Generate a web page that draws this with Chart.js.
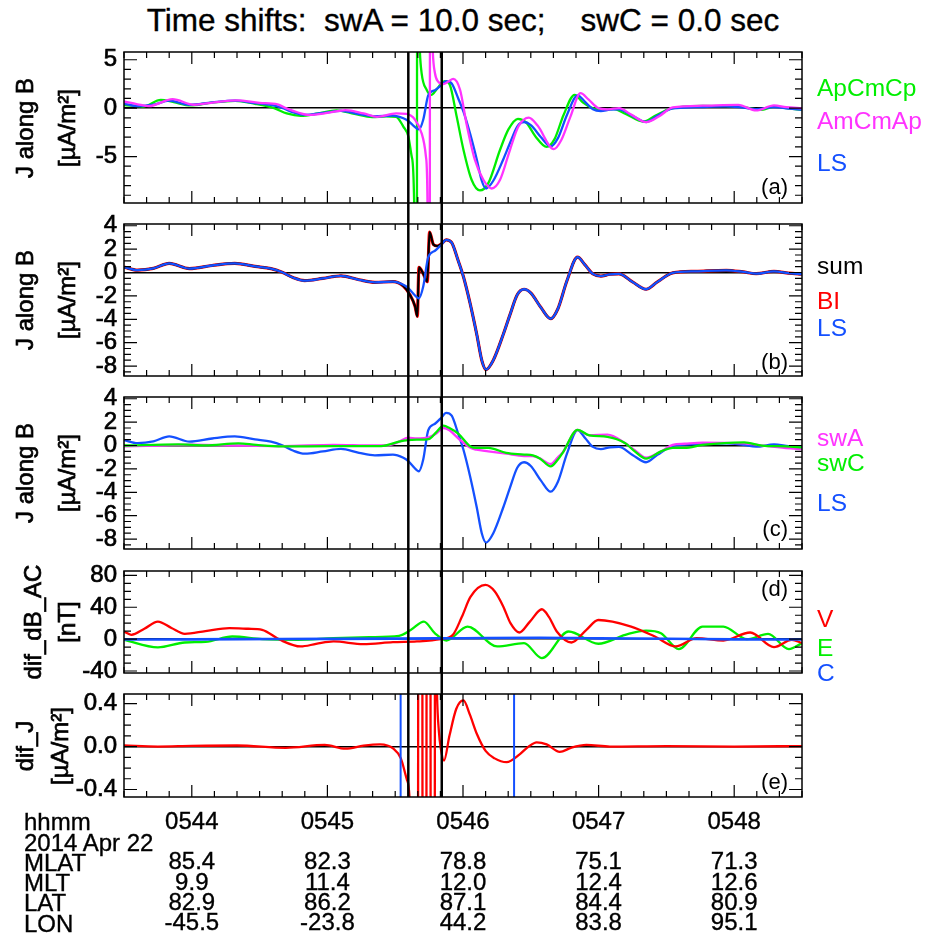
<!DOCTYPE html>
<html>
<head>
<meta charset="utf-8">
<script src="https://cdn.jsdelivr.net/npm/chart.js@4.4.1/dist/chart.umd.min.js"></script>
<style>
  html, body { margin: 0; padding: 0; background: #fff; }
  #page { position: relative; width: 934px; height: 938px; overflow: hidden;
          font-family: "Liberation Sans", Arial, Helvetica, sans-serif; }
  #page canvas { position: absolute; left: 0; }
  .txt { position: absolute; white-space: pre; line-height: 1; }
  .thick { -webkit-text-stroke: 0.7px #000; }
  .semi { -webkit-text-stroke: 0.35px #000; }
</style>
</head>
<body>
<div id="page"></div>
<script>
// Tempo em segundos depois de 05:43:00 (janela 05:43:30 - 05:48:30)

// --- linhas da tabela do eixo x ---
const rowNames = ['hhmm', '2014 Apr 22', 'MLAT', 'MLT', 'LAT', 'LON'];
const hhmm = ['0544', '0545', '0546', '0547', '0548'];
const mlat = ['85.4', '82.3', '78.8', '75.1', '71.3'];
const mlt  = ['9.9', '11.4', '12.0', '12.4', '12.6'];
const lat  = ['82.9', '86.2', '87.1', '84.4', '80.9'];
const lon  = ['-45.5', '-23.8', '44.2', '83.8', '95.1'];

// linhas verticais pretas e azuis (tempo)
const markerTimes = [155.8, 170.6];
const difJBounds = [152.4, 202.6];

// --- J along B, LS (usado em a, b, c) ---
const lsJ = [[30,0.46],[36,0.2],[43,0.35],[50,0.78],[59,0.33],[69,0.6],[79,0.78],[88,0.52],[95,0.33],[100,0.02],
  [105,-0.45],[110,-0.7],[118,-0.5],[126,-0.28],[134,-0.62],[141,-0.84],[149,-0.78],[153.6,-1.05],[155.8,-1.33],
  [158,-1.8],[160.5,-2.2],[162.4,-1.2],[164.6,1.3],[167.6,1.86],[170.5,2.4],[172.5,2.8],[175,2.55],[177.9,1.0],
  [180.2,-0.36],[183.1,-2.6],[186.1,-5.3],[188.3,-7.5],[190.2,-8.3],[193.4,-7.5],[197.8,-5.3],[200.8,-3.6],
  [204,-1.9],[207,-1.43],[210,-1.75],[214.5,-3.0],[218.8,-3.95],[222,-3.1],[226,-0.7],[230.7,1.32],[234,0.65],
  [237.5,-0.12],[241,-0.3],[245,-0.15],[249,-0.12],[255,-0.8],[261,-1.43],[266,-0.8],[272.8,-0.03],[283,0.1],
  [296.5,0.19],[304,0.05],[309.7,-0.1],[317.6,0.1],[324,-0.05],[330,-0.15]];

// painel (a)
const apJ = [[30,0.31],[38.4,0.17],[46.3,0.86],[52,0.62],[59.5,0.28],[68,0.55],[79.2,0.76],[88,0.45],[96.4,0.0],
  [102,-0.55],[108.2,-0.8],[116,-0.55],[124,-0.24],[132,-0.6],[139.8,-0.93],[146,-0.85],[150.4,-0.9],[153.6,-1.9],
  [155.8,-2.9],[157.3,-5],[158.4,-10],[158.9,-40],[159.5,-40],[159.8,40],[160.3,12],[160.9,6],[161.7,3.6],
  [163.9,1.9],[166,1.37],[168.2,1.9],[170.5,2.58],[171.9,2.8],[174.2,2.4],[177.2,-0.87],[180.2,-4.3],[183.8,-7.4],
  [187.5,-8.5],[191.2,-7.75],[196.4,-4.3],[200.1,-2.2],[204.3,-1.1],[208,-1.5],[212,-2.9],[217,-4.0],[220.5,-3.2],
  [224.5,-0.7],[229.4,1.38],[233,0.6],[237.3,0.0],[241.2,-0.17],[246.5,-0.08],[252,-0.6],[259.7,-1.38],[265,-0.8],
  [271.5,-0.07],[286,0.24],[301.8,0.17],[312.3,-0.17],[317.6,0.17],[323,0.0],[330,-0.17]];
const amJ = [[30,0.69],[36,0.4],[41,0.2],[51.5,0.93],[61,0.35],[70,0.6],[80,0.8],[90,0.55],[98,0.4],[101.6,0.0],
  [107,-0.45],[112,-0.7],[120,-0.5],[128,-0.2],[136,-0.55],[142,-0.9],[150.4,-0.55],[155,-0.6],[158.8,-1.2],
  [161.7,-2.6],[163.6,-5],[164.3,-10],[164.8,-40],[165.2,-40],[165.5,40],[166,12],[166.6,6],[167.6,3.6],[169,2.75],
  [171.3,2.48],[173.5,2.75],[175.7,3.03],[178.7,1.9],[181.5,-1.55],[185.2,-5.3],[189,-7.4],[192.7,-8.3],[196.4,-7.4],
  [200.8,-4.3],[204.5,-1.9],[209.1,-0.97],[213,-1.8],[220.2,-4.24],[223.5,-3.3],[227.5,-0.9],[232,1.55],[235.5,0.9],
  [239.9,0.0],[244,-0.12],[249.1,0.0],[254,-0.6],[261,-1.45],[267,-0.8],[272.8,0.07],[286,0.25],[301.8,0.34],
  [309.7,-0.24],[317.6,0.28],[323,0.1],[330,0.0]];

// painel (b): sum e BI
const sumJ = [[30,0.46],[36,0.2],[43,0.35],[50,0.78],[59,0.33],[69,0.6],[79,0.78],[88,0.52],[95,0.33],[100,0.02],
  [105,-0.45],[110,-0.7],[118,-0.5],[126,-0.28],[134,-0.62],[141,-0.84],[149,-0.78],[153.6,-1.15],[156.5,-1.9],
  [158.8,-2.9],[159.8,-3.75],[160.5,0.45],[162.4,-0.1],[164.2,-0.78],[165.2,3.45],[166.9,2.4],[168.6,2.27],
  [170.5,2.45],[172.5,2.8],[175,2.55],[177.9,1.0],[180.2,-0.36],[183.1,-2.6],[186.1,-5.3],[188.3,-7.5],[190.2,-8.3],
  [193.4,-7.5],[197.8,-5.3],[200.8,-3.6],[204,-1.9],[207,-1.43],[210,-1.75],[214.5,-3.0],[218.8,-3.95],[222,-3.1],
  [226,-0.7],[230.7,1.32],[234,0.65],[237.5,-0.12],[241,-0.3],[245,-0.15],[249,-0.12],[255,-0.8],[261,-1.43],
  [266,-0.8],[272.8,-0.03],[283,0.1],[296.5,0.19],[304,0.05],[309.7,-0.1],[317.6,0.1],[324,-0.05],[330,-0.15]];
const biJ = [[30,0.46],[36,0.2],[43,0.35],[50,0.78],[59,0.33],[69,0.6],[79,0.78],[88,0.52],[95,0.33],[100,0.02],
  [105,-0.45],[110,-0.7],[118,-0.5],[126,-0.28],[134,-0.62],[141,-0.84],[149,-0.78],[153.6,-1.15],[156.5,-1.9],
  [158.8,-2.9],[159.8,-3.75],[160.5,0.45],[162.4,-0.1],[164.2,-0.78],[165.2,3.45],[166.9,2.4],[168.6,2.27],
  [170.5,2.45],[172.5,2.8],[175,2.55],[177.9,1.0],[180.2,-0.36],[183.1,-2.6],[186.1,-5.3],[188.3,-7.5],[190.2,-8.3],
  [193.4,-7.5],[197.8,-5.3],[200.8,-3.6],[204,-1.9],[207,-1.43],[210,-1.75],[214.5,-3.0],[218.8,-3.95],[222,-3.1],
  [226,-0.7],[230.7,1.32],[234,0.65],[237.5,-0.12],[241,-0.3],[245,-0.15],[249,-0.12],[255,-0.8],[261,-1.43],
  [266,-0.8],[272.8,-0.03],[283,0.1],[296.5,0.19],[304,0.05],[309.7,-0.1],[317.6,0.1],[324,-0.05],[330,-0.15]];

// painel (c): swA e swC
const swaJ = [[30,-0.08],[45,0.0],[60,0.08],[80,0.0],[100,-0.05],[122.7,0.05],[140,0.0],[148,0.05],[151.7,0.33],
  [155.6,0.68],[159.6,0.6],[164.8,0.7],[168,1.0],[171.4,1.5],[174,1.3],[178,0.6],[183.3,-0.2],[185.9,-0.36],
  [191.2,-0.5],[199.1,-0.7],[207,-0.9],[210.9,-0.9],[214,-1.1],[218.8,-1.58],[222,-1.0],[224.1,-0.6],[230.7,1.34],
  [236,0.87],[243.9,0.93],[251.8,0.19],[256,-0.4],[261,-1.04],[267.6,-0.5],[272.8,0.05],[278.1,0.15],[286,0.25],
  [304.4,0.19],[312.3,0.0],[322.9,-0.22],[330,-0.3]];
const swcJ = [[30,0.0],[54,0.1],[66,0.02],[80.6,0.19],[88.5,0.05],[100,-0.08],[122.7,-0.05],[143.8,-0.05],
  [151.7,0.33],[155.6,0.46],[159.6,0.5],[164.8,0.55],[168,1.1],[171.4,1.7],[174,1.5],[178,1.0],[183.3,-0.08],
  [185.9,-0.2],[191.2,-0.2],[199.1,-0.63],[207,-0.77],[210.9,-0.85],[214,-1.1],[218.8,-1.78],[222,-1.2],[224.1,-0.63],
  [230.7,1.34],[236,0.87],[243.9,0.74],[251.8,0.19],[256,-0.5],[261,-1.12],[267.6,-0.5],[272.8,-0.2],[278.1,-0.2],
  [286,0.05],[304.4,0.27],[312.3,0.0],[322.9,-0.08],[330,-0.16]];

// painel (d): dif_dB_AC [nT]
const vDB = [[30,9.6],[33.2,5.4],[39,13],[45,22],[51,14],[56.9,6.7],[66,10],[76.6,13.8],[85,13],[91.1,11.7],[99,-0.8],
  [108.2,-9.2],[115,-6],[122.7,-2.9],[135.9,-6.3],[149,-3.8],[159.6,-2.9],[170.1,0],[175.4,5],[179.5,28],[183.3,53],
  [189.9,68],[194,60],[197.8,41],[201,20],[204.9,8.3],[209.6,22],[214.9,37.5],[218,28],[221.5,9.6],[228,-4.2],
  [234.6,11.7],[239.9,24],[254.4,15.8],[264.9,3.3],[274.1,-9.2],[283.4,1.25],[295.2,-1.7],[307.1,8.3],[317.6,-10],
  [325.5,-0.8],[330,-5]];
const eDB = [[30,-0.8],[45,-10.4],[56.9,-4.2],[66.1,-3.5],[77.9,3.3],[91.1,0],[106.9,-0.8],[122.7,1.25],[138.5,2.5],
  [151.7,4.2],[157,11.7],[162.7,22],[167.5,7.5],[172.7,-1.7],[182,15.8],[195.1,-9.2],[207,-5],[214.9,-23.8],
  [226.7,9.6],[239.9,-5.8],[251.8,5.4],[261,10.8],[267.6,7.5],[275.5,-12.5],[286,15.8],[295.2,15.8],[305.7,0],
  [315,6.7],[324.2,-12.5],[330,-5]];
const cDB = [[30,-0.5],[60,-0.3],[100,0.2],[150,0.6],[180,1.2],[214,1.8],[240,1.0],[270,0.5],[300,-0.3],[330,-0.5]];

// painel (e): dif_J
const difJ = [[30,0.01],[45,0.0],[60,0.006],[80,0.01],[101.6,-0.012],[118.8,0.015],[128,-0.02],[136,0.008],
  [143.3,0.02],[149.2,-0.02],[152.5,-0.11],[155.2,-0.31],[156.6,-0.6],[157.6,-3],[160.0,-3],[160.3,3],[161.9,3],
  [162.2,-3],[163.7,-3],[164.0,3],[165.5,3],[165.8,-3],[167.4,-3],[167.7,3],[168.0,1.2],[168.5,0.5],[169.3,0.15],
  [170.2,-0.02],[171.6,-0.13],[174,0.1],[177,0.35],[180.2,0.43],[183,0.3],[186.1,0.12],[190,-0.04],[194,-0.11],
  [199.3,-0.145],[205.2,-0.07],[209,0.0],[212.6,0.04],[217,0.02],[222.8,-0.05],[228,-0.01],[234.6,0.015],[245,0.0],
  [270,0.005],[300,0.0],[330,0.005]];

// --- cores e fontes ---
const GREEN = '#00ee00';
const MAGENTA = '#ff33ff';
const BLUE = '#1450ff';
const RED = '#ff0000';
const BLACK = '#000000';
const FONT = '"Liberation Sans", Arial, Helvetica, sans-serif';

const page = document.getElementById('page');

// Plugin: moldura estilo IDL, ticks para dentro e linhas verticais
const idlFrame = {
    id: 'idlFrame',
    afterDatasetsDraw(chart, args, o) {
        const { ctx, chartArea: a, scales: { x, y } } = chart;
        ctx.save();

        // linhas azuis (so no painel e)
        ctx.strokeStyle = BLUE;
        ctx.lineWidth = 2;
        (o.bounds || []).forEach(t => {
            const px = x.getPixelForValue(t);
            ctx.beginPath();
            ctx.moveTo(px, a.top);
            ctx.lineTo(px, a.bottom);
            ctx.stroke();
        });

        // moldura
        ctx.strokeStyle = BLACK;
        ctx.lineWidth = 1.5;
        ctx.strokeRect(a.left, a.top, a.right - a.left, a.bottom - a.top);

        // ticks do eixo x: 10 s, maiores no minuto cheio
        ctx.lineWidth = 1.2;
        ctx.beginPath();
        for (let t = x.min; t <= x.max + 1e-6; t += 10) {
            const px = x.getPixelForValue(t);
            const len = t % 60 === 0 ? 12 : 6;
            ctx.moveTo(px, a.bottom); ctx.lineTo(px, a.bottom - len);
            ctx.moveTo(px, a.top); ctx.lineTo(px, a.top + len);
        }
        // ticks do eixo y, nos dois lados
        const k0 = Math.ceil(y.min / o.minor - 1e-6);
        for (let k = k0; k * o.minor <= y.max + 1e-9; k++) {
            const v = k * o.minor;
            const isMajor = Math.abs(v / o.major - Math.round(v / o.major)) < 1e-6;
            const len = isMajor ? 13 : 7;
            const py = y.getPixelForValue(v);
            ctx.moveTo(a.left, py); ctx.lineTo(a.left + len, py);
            ctx.moveTo(a.right, py); ctx.lineTo(a.right - len, py);
        }
        ctx.stroke();

        // linhas pretas que atravessam todos os paineis
        ctx.lineWidth = 2.5;
        const y0 = o.span === 'below' ? a.top : 0;
        const y1 = o.span === 'above' ? a.bottom : chart.height;
        markerTimes.forEach(t => {
            const px = x.getPixelForValue(t);
            ctx.beginPath();
            ctx.moveTo(px, y0);
            ctx.lineTo(px, y1);
            ctx.stroke();
        });
        ctx.restore();
    }
};

function line(label, points, color, order, width) {
    return {
        label: label,
        data: points.map(p => ({ x: p[0], y: p[1] })),
        borderColor: color,
        borderWidth: width || 2.3,
        pointRadius: 0,
        fill: false,
        order: order
    };
}

function bottomLabel(value) {
    if (value % 60 !== 0) return '';
    const i = value / 60 - 1;
    if (i < 0 || i >= hhmm.length) return '';
    return [hhmm[i], '', mlat[i], mlt[i], lat[i], lon[i]];
}

function makePanel(p) {
    const cv = document.createElement('canvas');
    cv.width = 934;
    cv.height = p.height;
    cv.style.top = p.top + 'px';
    page.appendChild(cv);
    const isLast = p.span === 'above';

    return new Chart(cv, {
        type: 'line',
        data: { datasets: p.datasets },
        options: {
            responsive: false,
            animation: false,
            events: [],
            layout: { padding: { top: p.padTop, bottom: isLast ? 0 : p.padBottom, left: 0, right: 132 } },
            elements: { line: { cubicInterpolationMode: 'monotone', capBezierPoints: false, borderJoinStyle: 'round' } },
            plugins: {
                legend: { display: false },
                tooltip: { enabled: false },
                idlFrame: { major: p.major, minor: p.minor, span: p.span, bounds: p.bounds }
            },
            scales: {
                x: {
                    type: 'linear', min: 30, max: 330, display: isLast,
                    grid: { display: false, drawTicks: false },
                    border: { display: false },
                    afterFit: s => {
                        s.height = isLast ? 141 : 0;
                        s.paddingLeft = 0; s.paddingRight = 0;
                    },
                    ticks: {
                        stepSize: 10, autoSkip: false, maxRotation: 0, minRotation: 0, padding: 15,
                        color: BLACK, textStrokeColor: BLACK, textStrokeWidth: 0.35,
                        font: { family: FONT, size: 24, lineHeight: '20.3px' },
                        callback: bottomLabel
                    }
                },
                y: {
                    type: 'linear', min: p.min, max: p.max,
                    afterFit: s => {
                        s.width = 124;
                        s.paddingTop = 0; s.paddingBottom = 0;
                    },
                    border: { display: false },
                    grid: {
                        drawTicks: false, lineWidth: 1.5,
                        color: c => (c.tick && c.tick.value === 0) ? BLACK : 'rgba(0,0,0,0)'
                    },
                    ticks: {
                        stepSize: p.major, includeBounds: false, autoSkip: false, padding: 7,
                        color: BLACK, textStrokeColor: BLACK, textStrokeWidth: 0.7,
                        font: { family: FONT, size: 24 },
                        callback: p.fmt
                    }
                }
            }
        },
        plugins: [idlFrame]
    });
}

const intFmt = v => String(v);

makePanel({ top: 40, height: 174, padTop: 12, padBottom: 11, min: -9.8, max: 5.8, major: 5, minor: 1,
    span: 'below', fmt: intFmt,
    datasets: [line('AmCmAp', amJ, MAGENTA, 0), line('LS', lsJ, BLUE, 1), line('ApCmCp', apJ, GREEN, 2)] });

makePanel({ top: 214, height: 173, padTop: 10, padBottom: 11, min: -8.85, max: 4.15, major: 2, minor: 0.5,
    span: 'full', fmt: intFmt,
    datasets: [line('LS', lsJ, BLUE, 0), line('sum', sumJ, BLACK, 1, 2.2), line('BI', biJ, RED, 2, 3.2)] });

makePanel({ top: 387, height: 173, padTop: 10, padBottom: 11, min: -8.85, max: 4.15, major: 2, minor: 0.5,
    span: 'full', fmt: intFmt,
    datasets: [line('swC', swcJ, GREEN, 0), line('swA', swaJ, MAGENTA, 1), line('LS', lsJ, BLUE, 2)] });

makePanel({ top: 560, height: 124, padTop: 11, padBottom: 11, min: -42.5, max: 85.5, major: 40, minor: 10,
    span: 'full', fmt: intFmt,
    datasets: [line('C', cDB, BLUE, 0, 2.6), line('V', vDB, RED, 1), line('E', eDB, GREEN, 2)] });

makePanel({ top: 684, height: 254, padTop: 10, padBottom: 0, min: -0.47, max: 0.49, major: 0.4, minor: 0.1,
    span: 'above', bounds: difJBounds, fmt: v => v.toFixed(1),
    datasets: [line('dif_J', difJ, RED, 0)] });

// --- textos em HTML ---
function addText(str, x, baseline, color, size, align, cls) {
    const d = document.createElement('div');
    d.className = 'txt' + (cls ? ' ' + cls : '');
    d.textContent = str;
    d.style.fontSize = size + 'px';
    d.style.color = color;
    d.style.top = (baseline - 0.8465 * size) + 'px';
    if (align === 'right') {
        d.style.right = (934 - x) + 'px';
    } else if (align === 'center') {
        d.style.left = x + 'px';
        d.style.transform = 'translateX(-50%)';
    } else {
        d.style.left = x + 'px';
    }
    page.appendChild(d);
}

// texto girado (titulo do eixo y), centrado em (cx, cy)
function addVertical(str, cx, cy, size) {
    const d = document.createElement('div');
    d.className = 'txt thick';
    d.textContent = str;
    d.style.fontSize = size + 'px';
    d.style.left = cx + 'px';
    d.style.top = cy + 'px';
    d.style.transform = 'translate(-50%, -50%) rotate(-90deg)';
    page.appendChild(d);
}

addText('Time shifts:  swA = 10.0 sec;    swC = 0.0 sec', 463, 32, BLACK, 31.5, 'center', 'semi');

// titulos dos eixos y
addVertical('J along B', 25, 127.5, 24);  addVertical('[µA/m²]', 67, 127.5, 24);
addVertical('J along B', 25, 300, 24);    addVertical('[µA/m²]', 67, 300, 24);
addVertical('J along B', 25, 473, 24);    addVertical('[µA/m²]', 67, 473, 24);
addVertical('dif_dB_AC', 33, 622, 24);    addVertical('[nT]', 67, 622, 24);
addVertical('dif_J', 25, 745.5, 24);      addVertical('[µA/m²]', 60, 745.5, 24);

// legendas coloridas a direita
addText('ApCmCp', 817, 97, GREEN, 24.5);
addText('AmCmAp', 817, 130, MAGENTA, 24.5);
addText('LS', 817, 172, BLUE, 24.5);
addText('sum', 817, 275, BLACK, 24.5);
addText('BI', 817, 310, RED, 24.5);
addText('LS', 817, 337, BLUE, 24.5);
addText('swA', 817, 447, MAGENTA, 24.5);
addText('swC', 817, 472, GREEN, 24.5);
addText('LS', 817, 512, BLUE, 24.5);
addText('V', 817, 628, RED, 24.5);
addText('E', 817, 657, GREEN, 24.5);
addText('C', 817, 682, BLUE, 24.5);

// rotulos dos paineis
addText('(a)', 788, 194.5, BLACK, 22, 'right');
addText('(b)', 788, 369.5, BLACK, 22, 'right');
addText('(c)', 788, 537, BLACK, 22, 'right');
addText('(d)', 788, 596.5, BLACK, 22, 'right');
addText('(e)', 788, 790, BLACK, 22, 'right');

// nomes das linhas da tabela de baixo
rowNames.forEach((name, i) => addText(name, 24, 830.6 + i * 20.3, BLACK, 24, 'left', 'semi'));
</script>
</body>
</html>
